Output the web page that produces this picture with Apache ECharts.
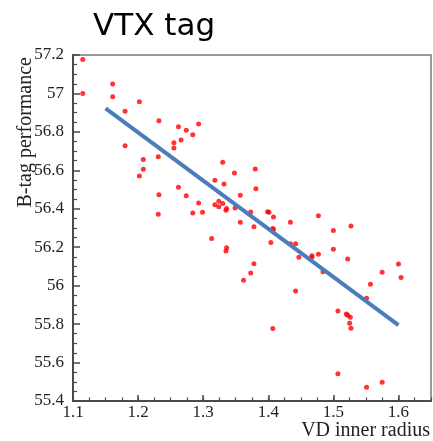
<!DOCTYPE html>
<html>
<head>
<meta charset="utf-8">
<script src="https://cdn.jsdelivr.net/npm/echarts@6/dist/echarts.min.js"></script>
<style>
  html, body { margin: 0; padding: 0; background: #fff; }
  #chart { width: 433px; height: 441px; }
</style>
</head>
<body>
<div id="chart"></div>
<script>
// VD inner radius of each configuration
const radius = [
  1.115, 1.115, 1.161, 1.161, 1.202, 1.180, 1.232, 1.262, 1.274, 1.293,
  1.284, 1.266, 1.255, 1.255, 1.180, 1.231, 1.208, 1.208, 1.202, 1.232,
  1.262, 1.274, 1.293, 1.318, 1.318, 1.231, 1.284, 1.299, 1.313, 1.330,
  1.380, 1.348, 1.332, 1.381, 1.357, 1.324, 1.330, 1.324, 1.336, 1.335,
  1.349, 1.373, 1.399, 1.401, 1.408, 1.477, 1.357, 1.378, 1.434, 1.407,
  1.408, 1.500, 1.527, 1.404, 1.434, 1.442, 1.500, 1.336, 1.335, 1.447,
  1.467, 1.467, 1.477, 1.522, 1.378, 1.484, 1.373, 1.600, 1.575, 1.604,
  1.362, 1.557, 1.442, 1.551, 1.507, 1.520, 1.522, 1.526, 1.525, 1.527,
  1.407, 1.507, 1.551, 1.575
];

// B-tag performance measured for each configuration
const performance = [
  57.176, 57.000, 57.049, 56.983, 56.957, 56.907, 56.858, 56.827, 56.808, 56.841,
  56.785, 56.758, 56.744, 56.716, 56.728, 56.671, 56.657, 56.605, 56.570, 56.473,
  56.512, 56.468, 56.430, 56.548, 56.421, 56.371, 56.378, 56.382, 56.246, 56.642,
  56.607, 56.586, 56.529, 56.504, 56.470, 56.439, 56.428, 56.411, 56.402, 56.392,
  56.404, 56.383, 56.385, 56.382, 56.357, 56.364, 56.330, 56.307, 56.330, 56.298,
  56.292, 56.287, 56.310, 56.225, 56.218, 56.218, 56.189, 56.197, 56.180, 56.148,
  56.156, 56.148, 56.164, 56.139, 56.114, 56.073, 56.066, 56.113, 56.070, 56.043,
  56.028, 56.007, 55.972, 55.934, 55.868, 55.853, 55.846, 55.836, 55.805, 55.778,
  55.777, 55.542, 55.471, 55.497
];

// Linear trend: end points
const trendX = [1.15, 1.60];
const trendY = [56.922, 55.795];

// Axis ranges and tick steps
const xRange = [1.1, 1.65];
const yRange = [55.4, 57.2];
const xMajorStep = 0.1;
const xMinorStep = 0.025;
const yMajorStep = 0.2;

const xTitle = 'VD inner radius';
const yTitle = 'B-tag performance';

const points = radius.map((r, i) => [r, performance[i]]);
const trend = trendX.map((x, i) => [x, trendY[i]]);

const serif = '"Liberation Serif", "DejaVu Serif", serif';
const axisColor = '#4a4a4a';

const chart = echarts.init(document.getElementById('chart'), null, { renderer: 'canvas' });

chart.setOption({
  backgroundColor: '#ffffff',
  animation: false,
  title: {
    text: 'VTX tag',
    left: 88,
    top: 6,
    textStyle: {
      fontFamily: '"DejaVu Sans", sans-serif',
      fontWeight: 'normal',
      fontSize: 31,
      color: '#000'
    }
  },
  grid: {
    left: 73,
    top: 55,
    right: 2,
    bottom: 40,
    containLabel: false,
    outerBoundsMode: 'none',
    show: true,
    borderColor: '#777',
    borderWidth: 1.5,
    backgroundColor: 'transparent'
  },
  // axis titles, placed at the axis ends
  graphic: [
    {
      type: 'text',
      x: 430,
      y: 431,
      silent: true,
      style: {
        text: xTitle,
        fontFamily: serif,
        fontSize: 20,
        fill: '#222',
        align: 'right',
        verticalAlign: 'middle'
      }
    },
    {
      type: 'text',
      x: 26,
      y: 57,
      rotation: Math.PI / 2,
      silent: true,
      style: {
        text: yTitle,
        fontFamily: serif,
        fontSize: 20,
        fill: '#222',
        align: 'right',
        verticalAlign: 'middle'
      }
    }
  ],
  xAxis: [
    {
      type: 'value',
      min: xRange[0],
      max: xRange[1],
      interval: xMajorStep,
      position: 'bottom',
      axisLine: { show: true, lineStyle: { color: axisColor, width: 2 } },
      axisTick: { show: true, inside: true, length: 6, lineStyle: { color: axisColor, width: 1.5 } },
      axisLabel: {
        show: true,
        margin: 3,
        showMaxLabel: false,
        fontFamily: serif,
        fontSize: 17,
        color: '#222',
        formatter: v => String(+v.toFixed(2))
      },
      splitLine: { show: false }
    },
    {
      // minor ticks along the bottom
      type: 'value',
      min: xRange[0],
      max: xRange[1],
      interval: xMinorStep,
      position: 'bottom',
      axisLine: { show: false },
      axisTick: { show: true, inside: true, length: 3.5, lineStyle: { color: axisColor, width: 1.2 } },
      axisLabel: { show: false },
      splitLine: { show: false }
    }
  ],
  yAxis: {
    type: 'value',
    min: yRange[0],
    max: yRange[1],
    interval: yMajorStep,
    axisLine: { show: true, lineStyle: { color: axisColor, width: 2 } },
    axisTick: { show: true, inside: true, length: 7, lineStyle: { color: axisColor, width: 1.5 } },
    minorTick: { show: true, splitNumber: 4, length: 4, lineStyle: { color: axisColor, width: 1.2 } },
    axisLabel: {
      margin: 9,
      fontFamily: serif,
      fontSize: 17,
      color: '#222',
      formatter: v => String(+v.toFixed(1))
    },
    splitLine: { show: false }
  },
  series: [
    {
      type: 'scatter',
      data: points,
      symbol: 'circle',
      symbolSize: 5,
      itemStyle: { color: '#ff0000' },
      z: 2
    },
    {
      type: 'line',
      data: trend,
      symbol: 'none',
      lineStyle: { color: '#4a7ebb', width: 4 },
      z: 3
    }
  ]
});
</script>
</body>
</html>
